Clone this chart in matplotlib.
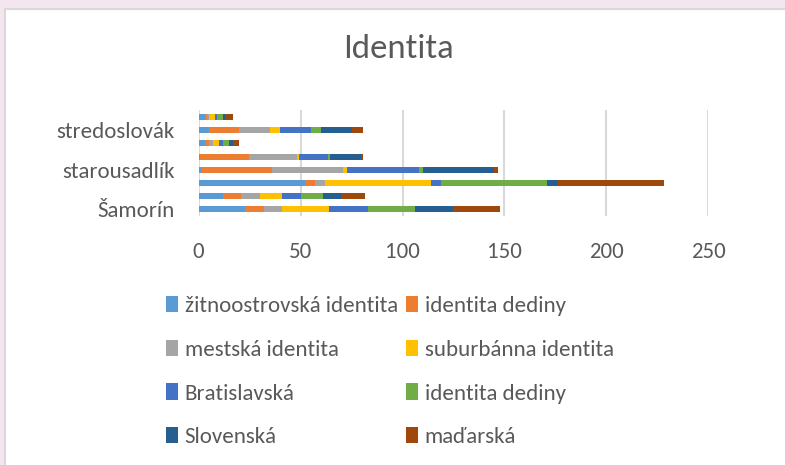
import numpy as np
import matplotlib
matplotlib.use("Agg")
import matplotlib.pyplot as plt
from matplotlib.patches import Rectangle

plt.rcParams['font.family'] = ['Carlito', 'DejaVu Sans']

# categories from bottom to top; Excel only prints every third label
categories = ['Šamorín', 'r2', 'r3', 'starousadlík', 'r5', 'r6', 'stredoslovák', 'r8']
tick_labels = ['Šamorín', '', '', 'starousadlík', '', '', 'stredoslovák', '']

series = ['žitnoostrovská identita', 'identita dediny', 'mestská identita',
          'suburbánna identita', 'Bratislavská', 'identita dediny',
          'Slovenská', 'maďarská']

zitnoostrovska = [23, 12, 52, 1, 0.5, 3, 5, 3]
dediny1 = [9, 9, 5, 35, 24, 2, 15, 1]
mestska = [9, 9, 5, 35, 24, 2, 15, 1]
suburbanna = [23, 11, 52, 2, 1, 3, 5, 3]
bratislavska = [19, 9, 5, 35, 14, 2, 15, 1]
dediny2 = [23, 11, 52, 2, 1, 3, 5, 3]
slovenska = [19, 9, 5, 35, 15, 2, 15, 1]
madarska = [23, 11.5, 52, 2, 1, 3, 5.5, 4]

colors = ['#5B9BD5', '#ED7D31', '#A5A5A5', '#FFC000',
          '#4472C4', '#70AD47', '#255E91', '#9E480E']

data = [zitnoostrovska, dediny1, mestska, suburbanna,
        bratislavska, dediny2, slovenska, madarska]

fig = plt.figure(figsize=(7.85, 4.65), dpi=100)
fig.patch.set_facecolor('#F4E6EF')
# white chart frame
fig.patches.append(Rectangle((5 / 785, -0.05), 1.0, 1.0 - 9 / 465 + 0.05,
                             transform=fig.transFigure, facecolor='white',
                             edgecolor='#D9D9D9', linewidth=1.5, zorder=-1))

ax = fig.add_axes([0.2529, 0.5355, 0.6496, 0.2271])
ax.set_facecolor('none')

y = np.arange(len(categories))
left = np.zeros(len(categories))
handles = []
for vals, name, c in zip(data, series, colors):
    b = ax.barh(y, vals, left=left, height=0.45, color=c, label=name, zorder=3)
    handles.append(b)
    left += np.array(vals)

ax.set_xlim(0, 250)
ax.set_ylim(-0.5, 7.5)
ax.set_xticks(np.arange(0, 251, 50))
ax.set_yticks(y)
ax.set_yticklabels(tick_labels)
for x in np.arange(0, 251, 50):
    ax.axvline(x, color='#D9D9D9', linewidth=1.5, zorder=1)
for s in ax.spines.values():
    s.set_visible(False)
ax.tick_params(axis='both', length=0, labelsize=16.5, labelcolor='#595959')
ax.tick_params(axis='x', pad=19)
ax.tick_params(axis='y', pad=17)

fig.text(0.507, 0.895, 'Identita', ha='center', va='center',
         fontsize=25, color='#595959')

# row-wise legend order (matplotlib fills columns first)
order = [0, 2, 4, 6, 1, 3, 5, 7]
leg = fig.legend(handles=[handles[i] for i in order],
                 labels=[series[i] for i in order], ncol=2, loc='upper left',
                 bbox_to_anchor=(0.2115, 0.363), frameon=False, fontsize=16.5,
                 labelcolor='#595959', handlelength=0.52, handleheight=0.7,
                 handletextpad=0.3, columnspacing=0.35, labelspacing=1.03,
                 borderaxespad=0, borderpad=0)

fig.savefig('out.png', dpi=100, facecolor=fig.get_facecolor())
